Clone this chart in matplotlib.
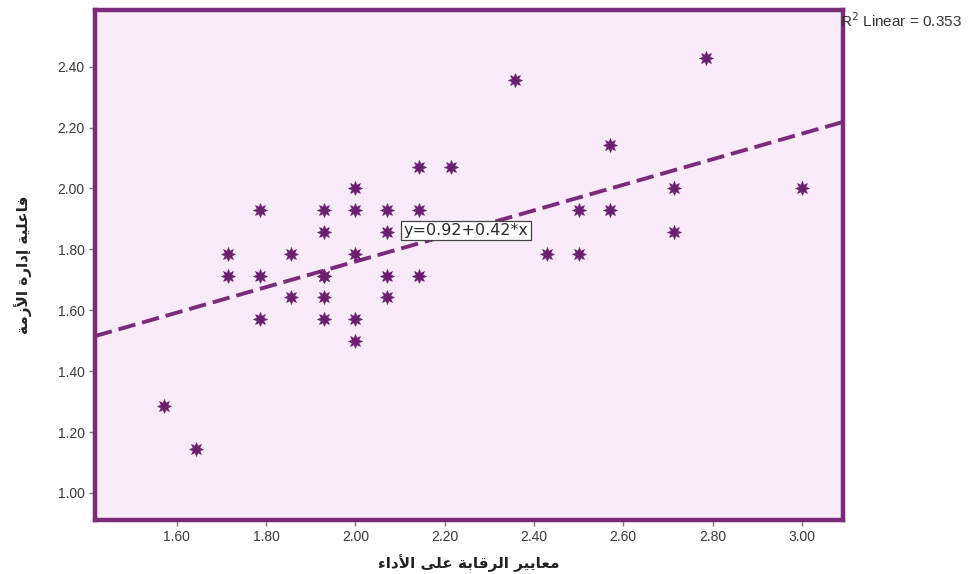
import numpy as np
import matplotlib
matplotlib.use("Agg")
import matplotlib.pyplot as plt

# data (both scales step in 1/14)
x_vals = [1.571, 1.643, 1.714, 1.714, 1.786, 1.786, 1.786, 1.857, 1.857,
          1.929, 1.929, 1.929, 1.929, 1.929, 1.929,
          2.0, 2.0, 2.0, 2.0, 2.0,
          2.071, 2.071, 2.071, 2.071,
          2.143, 2.143, 2.143, 2.214, 2.357, 2.429, 2.5, 2.5,
          2.571, 2.571, 2.714, 2.714, 2.786, 3.0]
y_vals = [1.286, 1.143, 1.786, 1.714, 1.929, 1.714, 1.571, 1.786, 1.643,
          1.929, 1.857, 1.714, 1.714, 1.643, 1.571,
          2.0, 1.929, 1.786, 1.571, 1.5,
          1.929, 1.857, 1.714, 1.643,
          2.071, 1.929, 1.714, 2.071, 2.357, 1.786, 1.929, 1.786,
          2.143, 1.929, 2.0, 1.857, 2.429, 2.0]
intercept = 0.92
slope = 0.42
r2 = 0.353
x_ticks = [1.6, 1.8, 2.0, 2.2, 2.4, 2.6, 2.8, 3.0]
y_ticks = [1.0, 1.2, 1.4, 1.6, 1.8, 2.0, 2.2, 2.4]
x_label = "معايير الرقابة على الأداء"
y_label = "فاعلية إدارة الأزمة"

# --- tiny arabic shaper (no arabic_reshaper available) ---
# letter: (isolated, final, initial, medial) ; None = does not join forward
FORMS = {
    "ا": ("\uFE8D", "\uFE8E", None, None),
    "أ": ("\uFE83", "\uFE84", None, None),
    "إ": ("\uFE87", "\uFE88", None, None),
    "ب": ("\uFE8F", "\uFE90", "\uFE91", "\uFE92"),
    "ة": ("\uFE93", "\uFE94", None, None),
    "د": ("\uFEA9", "\uFEAA", None, None),
    "ر": ("\uFEAD", "\uFEAE", None, None),
    "ز": ("\uFEAF", "\uFEB0", None, None),
    "ع": ("\uFEC9", "\uFECA", "\uFECB", "\uFECC"),
    "ف": ("\uFED1", "\uFED2", "\uFED3", "\uFED4"),
    "ق": ("\uFED5", "\uFED6", "\uFED7", "\uFED8"),
    "ل": ("\uFEDD", "\uFEDE", "\uFEDF", "\uFEE0"),
    "م": ("\uFEE1", "\uFEE2", "\uFEE3", "\uFEE4"),
    "ي": ("\uFEF1", "\uFEF2", "\uFEF3", "\uFEF4"),
    "ى": ("\uFEEF", "\uFEF0", None, None),
    "ء": ("\uFE80", None, None, None),
}
LAM_ALEF = {"ا": ("\uFEFB", "\uFEFC"), "أ": ("\uFEF7", "\uFEF8"),
            "إ": ("\uFEF9", "\uFEFA")}


def shape(text):
    chars = list(text)
    out = []
    i = 0
    prev_joins = False
    while i < len(chars):
        c = chars[i]
        if c not in FORMS:
            out.append(c)
            prev_joins = False
            i += 1
            continue
        if c == "ل" and i + 1 < len(chars) and chars[i + 1] in LAM_ALEF:
            iso, fin = LAM_ALEF[chars[i + 1]]
            out.append(fin if prev_joins else iso)
            prev_joins = False
            i += 2
            continue
        iso, fin, ini, med = FORMS[c]
        nxt = chars[i + 1] if i + 1 < len(chars) else None
        next_ok = ini is not None and nxt in FORMS and FORMS[nxt][1] is not None
        if prev_joins and next_ok:
            out.append(med)
        elif prev_joins:
            out.append(fin)
        elif next_ok:
            out.append(ini)
        else:
            out.append(iso)
        prev_joins = next_ok
        i += 1
    return "".join(out)[::-1]


purple = "#7a2c7a"
marker_col = "#6a1e6e"

fig = plt.figure(figsize=(9.74, 5.74), dpi=100)
ax = fig.add_axes([0.0975, 0.094, 0.768, 0.889])
ax.set_facecolor("#f9ebf9")

ax.scatter(x_vals, y_vals, marker=(8, 1, 0), s=100, color=marker_col,
           linewidths=0.5, zorder=3)

xlim = (1.417, 3.092)
line_x = np.array(xlim)
ax.plot(line_x, intercept + slope * line_x, color=purple, lw=2.8,
        dashes=(4.5, 1.8), zorder=2)

ax.text(2.108, 1.862, "y=%.2f+%.2f*x" % (intercept, slope), fontsize=11.5,
        family="DejaVu Sans", color="#2a2a2a", ha="left", va="center",
        zorder=4,
        bbox=dict(boxstyle="square,pad=0.15", fc="white", ec="#444444", lw=0.9))

ax.set_xlim(*xlim)
ax.set_ylim(0.911, 2.587)
ax.set_xticks(x_ticks)
ax.set_yticks(y_ticks)
ax.set_xticklabels(["%.2f" % v for v in x_ticks])
ax.set_yticklabels(["%.2f" % v for v in y_ticks])
ax.tick_params(direction="out", length=4, width=1, color="#777777",
               labelsize=10, labelcolor="#3a3a3a")
for lab in ax.get_xticklabels() + ax.get_yticklabels():
    lab.set_family("Liberation Sans")

for sp in ax.spines.values():
    sp.set_color(purple)
    sp.set_linewidth(3.2)

ax.set_xlabel(shape(x_label), fontsize=11, family="DejaVu Sans",
              weight="bold", color="#222222", labelpad=7)
ax.set_ylabel(shape(y_label), fontsize=11, family="DejaVu Sans",
              weight="bold", color="#222222", labelpad=18)

fig.text(0.862, 1 - 21 / 574, "R$^2$ Linear = %.3f" % r2, fontsize=11,
         family="Liberation Sans", color="#333333", ha="left", va="center")

fig.savefig("out.png", dpi=100)
